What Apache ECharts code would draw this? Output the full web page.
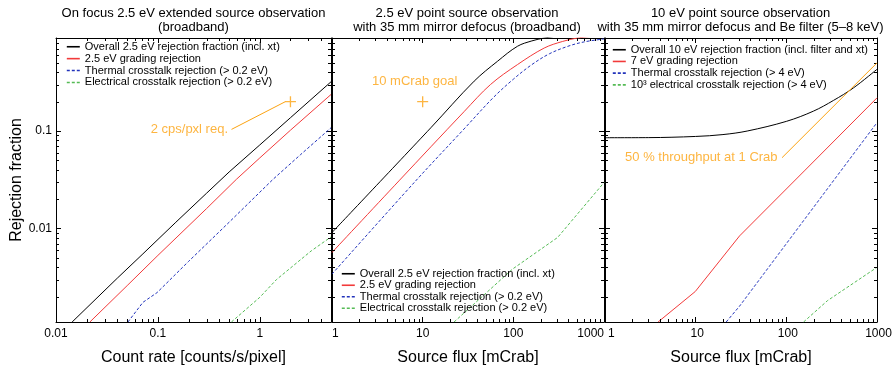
<!DOCTYPE html>
<html>
<head>
<meta charset="utf-8">
<script src="https://cdn.jsdelivr.net/npm/echarts@6/dist/echarts.min.js"></script>
<style>
  html, body { margin: 0; padding: 0; background: #fff; }
  #chart { width: 896px; height: 369px; }
</style>
</head>
<body>
<div id="chart"></div>
<script>
// ---- data ----
// panel 1: count rate [counts/s/pixel]
const p1Overall = [[0.0144,0.0011],[0.04,0.0031],[0.07,0.0054],[0.15,0.0116],[0.3,0.023],[0.5,0.038],[1,0.072],[2,0.137],[5,0.32]];
const p1Grading = [[0.0215,0.0011],[0.05,0.0026],[0.1,0.0053],[0.3,0.016],[0.59,0.032],[1,0.053],[2,0.102],[5,0.237]];
const p1Thermal = [[0.0508,0.0011],[0.0713,0.00175],[0.098,0.0022],[0.2,0.0046],[0.5,0.0116],[1.35,0.032],[2.5,0.057],[5,0.108]];
const p1Elec = [[0.527,0.0011],[1,0.00197],[1.46,0.003],[3.2,0.0059],[5,0.0082]];
// panel 2: source flux [mCrab], 2.5 eV defocused
const p2Overall = [[1,0.0091],[12.3,0.108],[37,0.325],[67,0.52],[111,0.74],[160,0.84],[220,0.9],[400,0.97],[1000,0.99]];
const p2Grading = [[1,0.00568],[5.47,0.0308],[28.6,0.158],[56,0.3],[111,0.48],[219,0.71],[350,0.83],[512,0.9],[1000,0.96]];
const p2Thermal = [[1,0.00341],[8.37,0.0308],[28.6,0.105],[60,0.22],[100,0.34],[160,0.48],[250,0.62],[400,0.74],[600,0.82],[1000,0.88]];
const p2Elec = [[22.2,0.0011],[98,0.00384],[308,0.0081],[1000,0.0296]];
// panel 3: source flux [mCrab], 10 eV with Be filter
const p3Overall = [[1,0.0854],[3,0.0856],[10,0.088],[20,0.092],[37,0.1],[101,0.126],[199,0.16],[331,0.206],[550,0.277],[1000,0.43]];
const p3Grading = [[3.85,0.0011],[9.9,0.00226],[30.5,0.0084],[158,0.039],[1000,0.219]];
const p3Thermal = [[21.7,0.0011],[30.5,0.0016],[399,0.039],[1000,0.122]];
const p3Elec = [[155,0.0011],[284,0.00182],[1000,0.004]];

// annotations
const reqPoint = [2, 0.2];
const reqArrow = [[0.528, 0.104], [1.78, 0.2]];
const goalPoint = [10, 0.2];
const thruLine = [[89.7, 0.0533], [1000, 0.5]];

const xRanges = [[0.01, 5], [1, 1000], [1, 1000]];
const yRange = [0.0011, 0.9];
const xNames = ['Count rate [counts/s/pixel]', 'Source flux [mCrab]', 'Source flux [mCrab]'];
const titles = [
  'On focus 2.5 eV extended source observation\n(broadband)',
  '2.5 eV point source observation\nwith 35 mm mirror defocus (broadband)',
  '10 eV point source observation\nwith 35 mm mirror defocus and Be filter (5\u20138 keV)'
];
const names25 = ['Overall 2.5 eV rejection fraction (incl. xt)', '2.5 eV grading rejection',
  'Thermal crosstalk rejection (> 0.2 eV)', 'Electrical crosstalk rejection (> 0.2 eV)'];
const names10 = ['Overall 10 eV rejection fraction (incl. filter and xt)', '7 eV grading rejection',
  'Thermal crosstalk rejection (> 4 eV)', '10\u00b3 electrical crosstalk rejection (> 4 eV)'];

const FONT = "'Liberation Sans', Arial, sans-serif";
const ORANGE = '#fca311';
const COLORS = ['#000000', '#f23a3a', '#2233bb', '#55bb55'];
const grids = [
  {left: 56, top: 38, width: 275, height: 284},
  {left: 332, top: 38, width: 272, height: 284},
  {left: 605, top: 38, width: 272, height: 284}
];

function tickFmt(v) {
  const l = Math.log10(v), r = Math.round(l);
  if (Math.abs(l - r) > 1e-6) return '';
  return r >= 0 ? String(Math.round(v)) : v.toFixed(-r);
}
function minorVals(lo, hi) {
  const out = [];
  for (let e = Math.floor(Math.log10(lo)); e <= Math.ceil(Math.log10(hi)); e++) {
    for (let m = 2; m <= 9; m++) {
      const v = m * Math.pow(10, e);
      if (v > lo * 1.0001 && v < hi * 0.9999) out.push(v);
    }
  }
  return out;
}

const axisLine = {show: true, lineStyle: {color: '#000', width: 1}};
const axisTick = {show: true, inside: true, length: 5, lineStyle: {color: '#000', width: 1}};

const xAxis = [], yAxis = [];
grids.forEach((g, i) => {
  xAxis.push({
    type: 'log', logBase: 10, gridIndex: i, min: xRanges[i][0], max: xRanges[i][1],
    position: 'bottom', axisLine, axisTick, splitLine: {show: false},
    axisLabel: {formatter: tickFmt, color: '#000', fontFamily: FONT, fontSize: 12, margin: 6,
      alignMinLabel: i > 0 ? 'left' : 'center', alignMaxLabel: i === 1 ? 'right' : 'center',
      padding: i === 2 ? [0, 0, 0, 3] : 0},
    name: xNames[i], nameLocation: 'middle', nameGap: 28,
    nameTextStyle: {color: '#000', fontFamily: FONT, fontSize: 16}
  });
  xAxis.push({
    type: 'log', logBase: 10, gridIndex: i, min: xRanges[i][0], max: xRanges[i][1],
    position: 'top', axisLine, axisTick, axisLabel: {show: false}, splitLine: {show: false}
  });
  yAxis.push({
    type: 'log', logBase: 10, gridIndex: i, min: yRange[0], max: yRange[1],
    position: 'left', axisLine, axisTick, splitLine: {show: false},
    axisLabel: {show: i === 0, formatter: tickFmt, color: '#000', fontFamily: FONT, fontSize: 12, margin: 4},
    name: i === 0 ? 'Rejection fraction' : '', nameLocation: 'middle', nameGap: 31,
    nameTextStyle: {color: '#000', fontFamily: FONT, fontSize: 16}
  });
  yAxis.push({
    type: 'log', logBase: 10, gridIndex: i, min: yRange[0], max: yRange[1],
    position: 'right', axisLine, axisTick, axisLabel: {show: false}, splitLine: {show: false}
  });
});

function curve(name, data, idx, gi, smooth) {
  return {
    name, type: 'line', data, xAxisIndex: 2 * gi, yAxisIndex: 2 * gi,
    symbol: 'none', clip: true, z: 3, smooth: smooth || false,
    lineStyle: {color: COLORS[idx], width: 1, type: idx >= 2 ? [3, 2] : 'solid'},
    itemStyle: {color: COLORS[idx]}
  };
}

function minorTicks(gi) {
  const xs = minorVals(xRanges[gi][0], xRanges[gi][1]);
  const ys = minorVals(yRange[0], yRange[1]);
  const data = xs.map(v => [v, 0.01, 0]).concat(ys.map(v => [xRanges[gi][0] * 2, v, 1]));
  return {
    type: 'custom', xAxisIndex: 2 * gi, yAxisIndex: 2 * gi, silent: true, z: 4, data,
    renderItem(params, api) {
      const cs = params.coordSys;
      const p = api.coord([api.value(0), api.value(1)]);
      const L = 3, st = {stroke: '#000', lineWidth: 1};
      let c;
      if (api.value(2) === 0) {
        const x = Math.round(p[0]) + 0.5;
        c = [
          {type: 'line', shape: {x1: x, y1: cs.y + cs.height, x2: x, y2: cs.y + cs.height - L}, style: st},
          {type: 'line', shape: {x1: x, y1: cs.y, x2: x, y2: cs.y + L}, style: st}
        ];
      } else {
        const y = Math.round(p[1]) + 0.5;
        c = [
          {type: 'line', shape: {x1: cs.x, y1: y, x2: cs.x + L, y2: y}, style: st},
          {type: 'line', shape: {x1: cs.x + cs.width, y1: y, x2: cs.x + cs.width - L, y2: y}, style: st}
        ];
      }
      return {type: 'group', children: c};
    }
  };
}

const plus = 'path://M4.4,0h1.2v4.4h4.4v1.2h-4.4v4.4h-1.2v-4.4h-4.4v-1.2h4.4z';
const annLabel = {color: ORANGE, fontFamily: FONT, fontSize: 13};

const series = [
  curve(names25[0], p1Overall, 0, 0), curve(names25[1], p1Grading, 1, 0),
  curve(names25[2], p1Thermal, 2, 0), curve(names25[3], p1Elec, 3, 0),
  curve(names25[0], p2Overall, 0, 1, 0.35), curve(names25[1], p2Grading, 1, 1, 0.35),
  curve(names25[2], p2Thermal, 2, 1, 0.35), curve(names25[3], p2Elec, 3, 1),
  curve(names10[0], p3Overall, 0, 2, 0.35), curve(names10[1], p3Grading, 1, 2),
  curve(names10[2], p3Thermal, 2, 2), curve(names10[3], p3Elec, 3, 2),
  minorTicks(0), minorTicks(1), minorTicks(2),
  // panel 1: requirement marker with arrow
  {
    type: 'scatter', xAxisIndex: 0, yAxisIndex: 0, data: [reqPoint], symbol: plus, symbolSize: 11,
    itemStyle: {color: ORANGE}, z: 5, silent: true,
    markLine: {
      silent: true, symbol: ['none', 'arrow'], symbolSize: [0, 6], animation: false,
      lineStyle: {color: ORANGE, width: 1, type: 'solid'}, label: {show: false},
      data: [[{coord: reqArrow[0]}, {coord: reqArrow[1]}]]
    }
  },
  {
    type: 'scatter', xAxisIndex: 0, yAxisIndex: 0, data: [reqArrow[0]], symbolSize: 1,
    itemStyle: {color: 'rgba(0,0,0,0)'}, silent: true,
    label: Object.assign({show: true, position: 'left', distance: 3, formatter: '2 cps/pxl req.'}, annLabel)
  },
  // panel 2: goal marker
  {
    type: 'scatter', xAxisIndex: 2, yAxisIndex: 2, data: [goalPoint], symbol: plus, symbolSize: 11,
    itemStyle: {color: ORANGE}, silent: true, z: 5,
    label: Object.assign({show: true, position: 'top', distance: 8, offset: [-8, 0], formatter: '10 mCrab goal'}, annLabel)
  },
  // panel 3: throughput line
  {
    type: 'scatter', xAxisIndex: 4, yAxisIndex: 4, data: [thruLine[0]], symbolSize: 1,
    itemStyle: {color: 'rgba(0,0,0,0)'}, silent: true, z: 5,
    label: Object.assign({show: true, position: 'left', distance: 4, formatter: '50 % throughput at 1 Crab'}, annLabel),
    markLine: {
      silent: true, symbol: ['none', 'none'], animation: false,
      lineStyle: {color: ORANGE, width: 1, type: 'solid'}, label: {show: false},
      data: [[{coord: thruLine[0]}, {coord: thruLine[1]}]]
    }
  }
];

function legend(data, left, top, gap) {
  return {
    data, left, top, orient: 'vertical', itemWidth: 13, itemHeight: 8, itemGap: gap,
    selectedMode: false, padding: 0,
    itemStyle: {opacity: 0, color: 'rgba(0,0,0,0)', borderWidth: 0},
    lineStyle: {width: 1.6},
    textStyle: {color: '#000', fontFamily: FONT, fontSize: 11, lineHeight: 11.5}
  };
}

const chart = echarts.init(document.getElementById('chart'), null, {renderer: 'canvas'});
chart.setOption({
  animation: false,
  backgroundColor: '#fff',
  grid: grids.map(g => Object.assign({containLabel: false, outerBoundsMode: 'none'}, g)),
  xAxis, yAxis, series,
  legend: [
    legend(names25, 66, 41, 0.4),
    legend(names25, 341, 268, 0),
    legend(names10, 612, 44, 0.2)
  ],
  graphic: titles.map((t, i) => ({
    type: 'text', x: [193.5, 467, 740.5][i], y: 6, silent: true,
    style: {text: t, fill: '#000', fontFamily: FONT, fontSize: 13, lineHeight: 14, align: 'center', verticalAlign: 'top'}
  }))
});
</script>
</body>
</html>
